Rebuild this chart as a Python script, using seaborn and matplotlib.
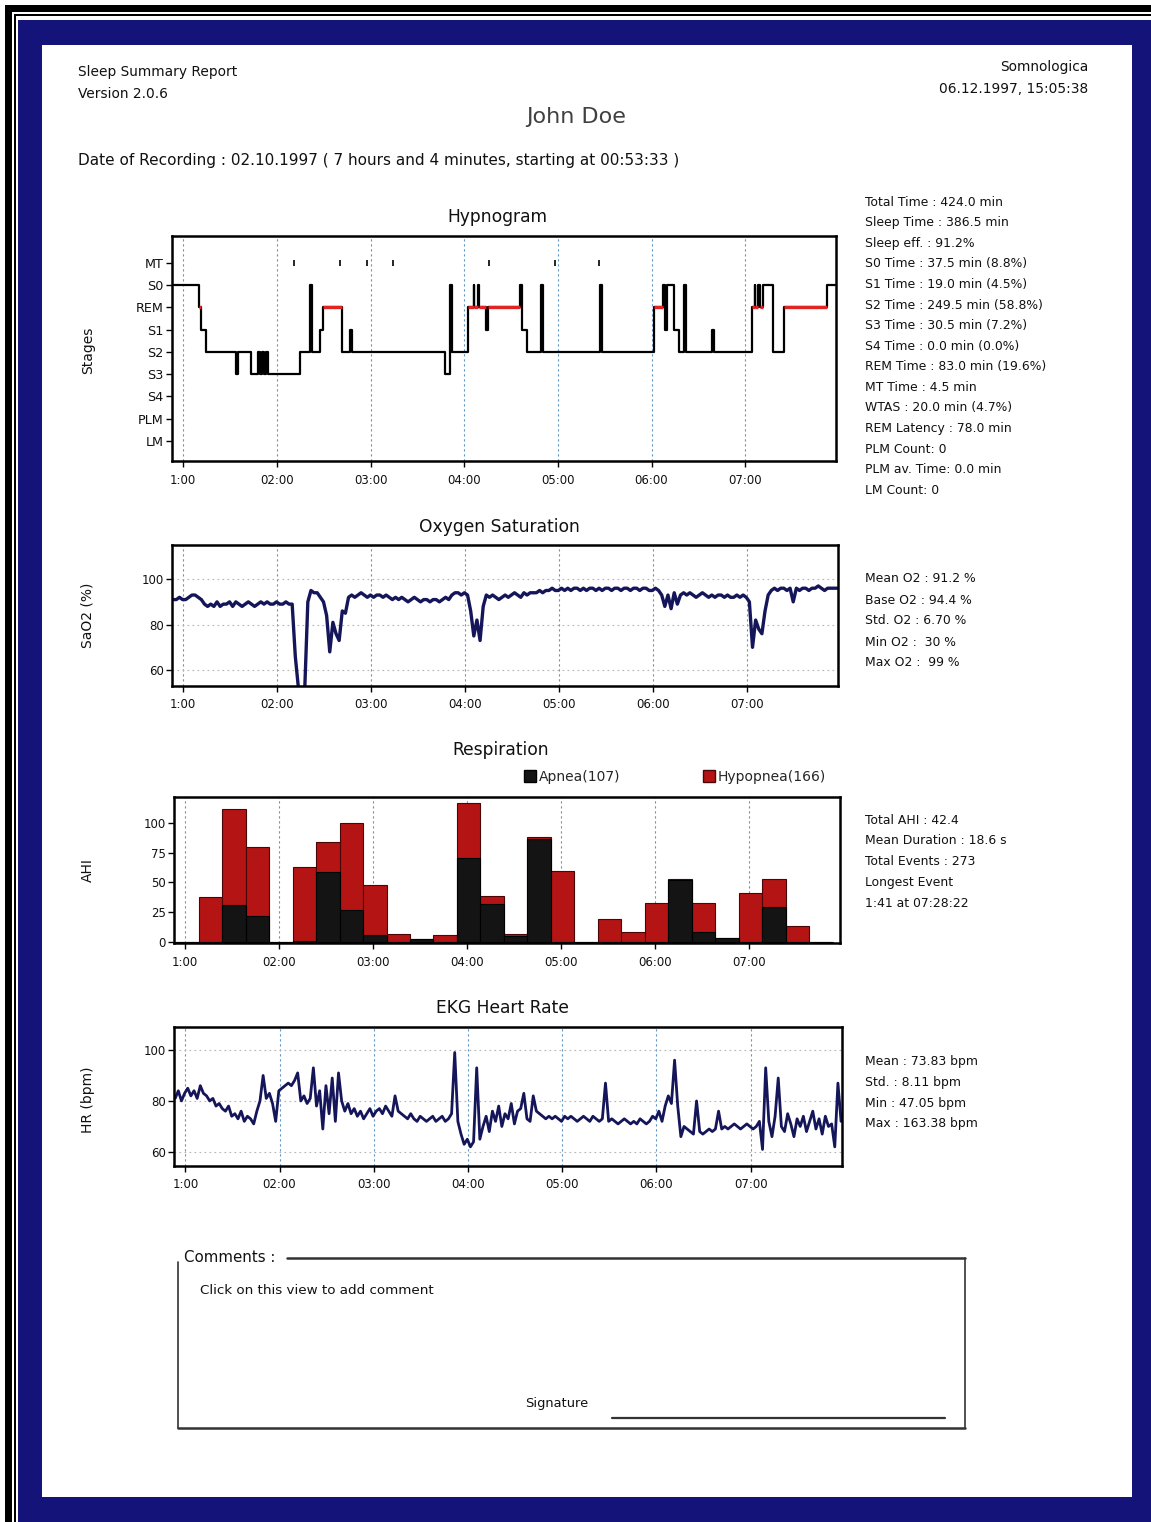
import numpy as np
import matplotlib
matplotlib.use("Agg")
import matplotlib.pyplot as plt
import seaborn as sns
from matplotlib.patches import Rectangle, Patch

sns.set_theme(style="white")
plt.rcParams['font.family'] = ['DejaVu Sans']

W, H = 1151, 1522
REC_START = 0.8925   # 00:53:33 in hours
REC_END = 7.96
X_MIN, X_MAX = 0.88, 7.97

hour_ticks = [1, 2, 3, 4, 5, 6, 7]
hour_labels = ["1:00", "02:00", "03:00", "04:00", "05:00", "06:00", "07:00"]

# ---------------- Hypnogram ----------------
stage_names = ["LM", "PLM", "S4", "S3", "S2", "S1", "REM", "S0", "MT"]
hyp_time = [0.88, 1.17, 1.19, 1.24, 1.56, 1.58, 1.72, 1.80, 1.82, 1.84, 1.86, 1.88, 1.90,
            2.25, 2.35, 2.37, 2.46, 2.49, 2.69, 2.78, 2.80, 3.80, 3.85, 3.87,
            4.04, 4.10, 4.11, 4.15, 4.16, 4.23, 4.25, 4.60, 4.62, 4.67, 4.82, 4.84,
            5.45, 5.47, 6.03, 6.12, 6.14, 6.17, 6.24, 6.29, 6.35, 6.37, 6.65, 6.67,
            7.07, 7.10, 7.11, 7.14, 7.16, 7.19, 7.30, 7.41, 7.87, 7.96]
hyp_stage = ["S0", "REM", "S1", "S2", "S3", "S2", "S3", "S2", "S3", "S2", "S3", "S2", "S3",
             "S2", "S0", "S2", "S1", "REM", "S2", "S1", "S2", "S3", "S0", "S2",
             "REM", "S0", "REM", "S0", "REM", "S1", "REM", "S0", "S1", "S2", "S0", "S2",
             "S0", "S2", "REM", "S0", "S1", "S0", "S1", "S2", "S0", "S2", "S1", "S2",
             "REM", "S0", "REM", "S0", "REM", "S0", "S2", "REM", "S0", "S0"]
mt_times = [2.18, 2.67, 2.96, 3.24, 4.26, 4.97, 5.44]

hyp_stats = ["Total Time : 424.0 min", "Sleep Time : 386.5 min", "Sleep eff. : 91.2%",
             "S0 Time : 37.5 min (8.8%)", "S1 Time : 19.0 min (4.5%)",
             "S2 Time : 249.5 min (58.8%)", "S3 Time : 30.5 min (7.2%)",
             "S4 Time : 0.0 min (0.0%)", "REM Time : 83.0 min (19.6%)",
             "MT Time : 4.5 min", "WTAS : 20.0 min (4.7%)", "REM Latency : 78.0 min",
             "PLM Count: 0", "PLM av. Time: 0.0 min", "LM Count: 0"]

# ---------------- Oxygen saturation (2-min samples) ----------------
o2_values = [91, 91, 92, 91, 91, 92, 93, 93, 92, 91,
             89, 88, 89, 88, 90, 88, 89, 89, 90,
             88, 90, 89, 88, 89, 90, 89, 88, 89, 90, 89, 90, 89, 89,
             90, 89, 89, 90, 89, 89,
             66, 52, 50, 51, 90, 95, 94,
             94, 92, 90, 84, 68, 81, 76, 73, 86, 85, 92,
             93, 92, 93, 94, 93, 92, 93, 92, 93, 93, 92, 93, 92, 91, 92, 91, 92, 91, 90, 91, 92, 91, 90, 91,
             91, 90, 91, 91, 90, 91, 92, 91, 93, 94, 94, 93, 94,
             93, 86, 75, 82, 73, 88,
             93, 92, 93, 92, 91, 92, 93, 92, 93, 94, 93, 92, 94, 93, 94, 94,
             94, 95, 94, 95, 95, 96, 95, 95, 96, 95, 96, 95, 96, 96, 95, 96, 95, 96, 96, 95,
             96, 95, 96, 96, 95, 96, 96, 95, 96, 96, 95, 96, 96, 95, 96, 96, 95,
             95, 96, 95, 93, 88, 93,
             87, 94, 89, 93, 94,
             93, 94, 93, 92, 93, 94, 93, 92, 93, 92, 93, 93, 92, 93, 92, 92, 93, 92, 93,
             92, 90, 70, 82, 78, 76, 86, 93, 95,
             96, 95, 96, 96, 95, 96, 90, 96, 95, 96, 96, 95, 96, 96, 97, 96, 95, 96, 96, 96, 96]
o2_stats = ["Mean O2 : 91.2 %", "Base O2 : 94.4 %", "Std. O2 : 6.70 %",
            "Min O2 :  30 %", "Max O2 :  99 %"]

# ---------------- Respiration (15-min bins from recording start) ----------------
apnea = [0, 0, 31, 22, 0, 1, 59, 27, 6, 0, 2, 0, 71, 32, 5, 87,
         0, 0, 0, 0, 0, 52, 8, 3, 0, 29, 0, 0]
hypopnea = [0, 38, 81, 58, 0, 62, 25, 73, 42, 7, 0, 6, 46, 7, 2, 1,
            60, 0, 19, 8, 33, 1, 25, 0, 41, 24, 13, 0]
BIN_HOURS = 0.25
resp_legend = ["Apnea(107)", "Hypopnea(166)"]
resp_stats = ["Total AHI : 42.4", "Mean Duration : 18.6 s", "Total Events : 273",
              "Longest Event", "1:41 at 07:28:22"]

# ---------------- Heart rate (2-min samples) ----------------
hr_values = [81, 84, 80, 83, 85, 82, 84, 81, 86, 83,
             82, 80, 81, 78, 79, 77, 76, 78, 74,
             75, 73, 76, 72, 74, 73, 71,
             76, 80, 90, 81, 83, 79, 72,
             84, 85, 86, 87, 86, 88, 91,
             80, 82, 79, 81, 93, 78,
             84, 69, 86, 75, 89, 72, 91, 80, 76,
             79, 75, 77, 74, 76, 73, 75, 77, 74,
             76, 77, 75, 78, 76, 74, 82, 76, 75,
             74, 73, 75, 73, 72, 74, 73, 72, 73, 74, 72, 73, 74, 72, 73, 75,
             99,
             72, 67, 63, 65, 62, 64, 93, 65,
             70, 74, 68, 76, 72, 78, 70, 75, 73, 79, 71, 76, 77, 83, 73, 72,
             82,
             76, 75, 74, 73, 74, 73, 74, 73, 72, 74, 73, 74, 73, 72, 73, 74, 73, 72, 74, 73, 72, 73,
             87,
             72, 73, 72, 71, 72, 73, 72, 71, 72, 71, 73, 72, 71, 72, 74,
             73, 76, 72, 78, 82, 79,
             96,
             78, 66, 70, 69, 68, 67,
             80,
             68, 67, 68, 69, 68, 69,
             76,
             69, 70, 69, 70, 71, 70, 69, 70, 71, 70, 69, 70, 72,
             61, 93, 72, 66, 74, 89, 70, 68, 75, 71, 66, 73, 70, 74, 68, 72, 76, 69, 73, 67,
             74, 70, 71, 62, 87, 72]
hr_stats = ["Mean : 73.83 bpm", "Std. : 8.11 bpm", "Min : 47.05 bpm", "Max : 163.38 bpm"]

# ---------------- colours ----------------
NAVY = "#13137a"
TRACE = "#15155a"
RED = "#b41414"
GRID_V = "#5f96c8"
TXT = "#111111"

fig = plt.figure(figsize=(W / 100, H / 100), dpi=100)
fig.patch.set_facecolor("white")
bg = fig.add_axes([0, 0, 1, 1])
bg.set_xlim(0, W)
bg.set_ylim(H, 0)
bg.axis("off")

# frame
bg.add_patch(Rectangle((5, 5), W, H, facecolor="black", lw=0))
bg.add_patch(Rectangle((12, 12), W, H, facecolor="white", lw=0))
bg.add_patch(Rectangle((14, 14), W, H, facecolor="black", lw=0))
bg.add_patch(Rectangle((16, 16), W, H, facecolor="white", lw=0))
bg.add_patch(Rectangle((18, 20), W, H, facecolor=NAVY, lw=0))
bg.add_patch(Rectangle((42, 45), 1132 - 42, 1497 - 45, facecolor="white", lw=0))

# header
bg.text(78, 72, "Sleep Summary Report", fontsize=9.9, color=TXT, va="center")
bg.text(78, 94, "Version 2.0.6", fontsize=9.9, color=TXT, va="center")
bg.text(1088, 67, "Somnologica", fontsize=9.9, color=TXT, va="center", ha="right")
bg.text(1088, 89, "06.12.1997, 15:05:38", fontsize=9.9, color=TXT, va="center", ha="right")
bg.text(576, 117, "John Doe", fontsize=16, color="#404040", va="center", ha="center")
bg.text(78, 160, "Date of Recording : 02.10.1997 ( 7 hours and 4 minutes, starting at 00:53:33 )",
        fontsize=10.95, color=TXT, va="center")


def px_axes(x0, y0, x1, y1):
    return fig.add_axes([x0 / W, 1 - y1 / H, (x1 - x0) / W, (y1 - y0) / H])


def style_axes(ax, hgrid=False):
    ax.set_facecolor("white")
    ax.set_xlim(X_MIN, X_MAX)
    ax.set_xticks(hour_ticks)
    ax.set_xticklabels(hour_labels, fontsize=8.5, color=TXT)
    for s in ax.spines.values():
        s.set_color("black")
        s.set_linewidth(1.8)
    ax.tick_params(axis="both", which="both", bottom=True, left=True, direction="out",
                   length=4, width=1, color="black", pad=2)
    ax.tick_params(axis="x", pad=5)
    ax.tick_params(axis="y", labelsize=8.5, labelcolor=TXT)
    ax.xaxis.grid(True, color=GRID_V, lw=0.8, ls=(0, (2, 2.5)))
    if hgrid:
        ax.yaxis.grid(True, color="#b5b5b5", lw=0.8, ls=(0, (1.5, 3)))
    else:
        ax.yaxis.grid(False)
    ax.set_axisbelow(True)
    ax.set_xlabel("")
    ax.set_ylabel("")


# ---------------- Hypnogram ----------------
ax1 = px_axes(172, 236, 836, 461)
hyp_level = [stage_names.index(s) for s in hyp_stage]
sns.lineplot(x=hyp_time, y=hyp_level, drawstyle="steps-post", color="black", lw=1.6,
             estimator=None, sort=False, ax=ax1)
for i in range(len(hyp_stage) - 1):
    if hyp_stage[i] == "REM":
        ax1.hlines(stage_names.index("REM"), hyp_time[i], hyp_time[i + 1], color="#e02323", lw=2.4, zorder=5)
sns.scatterplot(x=mt_times, y=[stage_names.index("MT")] * len(mt_times), marker="|", s=22,
                color="black", linewidth=1.2, ax=ax1)
style_axes(ax1)
ax1.set_ylim(-0.9, 9.2)
ax1.set_yticks(range(len(stage_names)))
ax1.set_yticklabels(stage_names, fontsize=9.2)
bg.text(497, 217, "Hypnogram", fontsize=12.3, ha="center", va="center", color=TXT)
bg.text(88, 350, "Stages", fontsize=10, rotation=90, ha="center", va="center", color=TXT)
for k, line in enumerate(hyp_stats):
    bg.text(865, 202 + k * 20.6, line, fontsize=8.9, va="center", color=TXT)

# ---------------- Oxygen saturation ----------------
ax2 = px_axes(172, 545, 838, 686)
o2_time = np.linspace(REC_START, REC_END, len(o2_values))
sns.lineplot(x=o2_time, y=o2_values, color=TRACE, lw=2.4, estimator=None, ax=ax2)
style_axes(ax2, hgrid=True)
ax2.set_ylim(53, 115)
ax2.set_yticks([60, 80, 100])
bg.text(499, 527, "Oxygen Saturation", fontsize=12.3, ha="center", va="center", color=TXT)
bg.text(88, 615, "SaO2 (%)", fontsize=10, rotation=90, ha="center", va="center", color=TXT)
for k, line in enumerate(o2_stats):
    bg.text(865, 579 + k * 21, line, fontsize=8.9, va="center", color=TXT)

# ---------------- Respiration ----------------
ax3 = px_axes(174, 797, 840, 943)
bin_edges = [REC_START + BIN_HOURS * k for k in range(len(apnea) + 1)]
bin_centers = [REC_START + BIN_HOURS * (k + 0.5) for k in range(len(apnea))]
resp_total = [a + h for a, h in zip(apnea, hypopnea)]
sns.histplot(x=bin_centers, weights=resp_total, bins=bin_edges, color=RED, alpha=1,
             edgecolor="#4a0606", linewidth=0.8, ax=ax3)
sns.histplot(x=bin_centers, weights=apnea, bins=bin_edges, color="#141414", alpha=1,
             edgecolor="#000000", linewidth=0.8, ax=ax3)
style_axes(ax3)
ax3.set_ylim(-1, 122)
ax3.set_yticks([0, 25, 50, 75, 100])
bg.text(501, 750, "Respiration", fontsize=12.3, ha="center", va="center", color=TXT)
bg.text(88, 870, "AHI", fontsize=10, rotation=90, ha="center", va="center", color=TXT)
handles = [Patch(facecolor="#141414", edgecolor="black"), Patch(facecolor=RED, edgecolor="#4a0606")]
fig.legend(handles, resp_legend, loc="center", bbox_to_anchor=(675 / W, 1 - 777 / H), ncol=2,
           frameon=False, fontsize=10, handlelength=0.9, handleheight=0.9, handletextpad=0.2,
           columnspacing=5.9, borderpad=0)
for k, line in enumerate(resp_stats):
    bg.text(865, 820 + k * 20.8, line, fontsize=8.9, va="center", color=TXT)

# ---------------- Heart rate ----------------
ax4 = px_axes(174, 1027, 842, 1166)
hr_time = np.linspace(REC_START, REC_END, len(hr_values))
sns.lineplot(x=hr_time, y=hr_values, color=TRACE, lw=2.0, estimator=None, ax=ax4)
style_axes(ax4, hgrid=True)
ax4.set_ylim(54.5, 109)
ax4.set_yticks([60, 80, 100])
bg.text(502, 1008, "EKG Heart Rate", fontsize=12.3, ha="center", va="center", color=TXT)
bg.text(88, 1100, "HR (bpm)", fontsize=10, rotation=90, ha="center", va="center", color=TXT)
for k, line in enumerate(hr_stats):
    bg.text(865, 1062 + k * 20.5, line, fontsize=8.9, va="center", color=TXT)

# ---------------- Comments box ----------------
BOX = "#333333"
bg.plot([287, 965], [1258, 1258], color=BOX, lw=1.8)
bg.plot([965, 965], [1258, 1428], color=BOX, lw=1.2)
bg.plot([178, 178], [1262, 1428], color=BOX, lw=1.2)
bg.plot([178, 965], [1428, 1428], color=BOX, lw=1.8)
bg.text(184, 1258, "Comments :", fontsize=10.8, va="center", color=TXT)
bg.text(200, 1291, "Click on this view to add comment", fontsize=9.7, va="center", color=TXT)
bg.text(557, 1403, "Signature", fontsize=9.4, va="center", ha="center", color=TXT)
bg.plot([612, 945], [1418, 1418], color=BOX, lw=1.6)

fig.savefig("out.png", dpi=100)
